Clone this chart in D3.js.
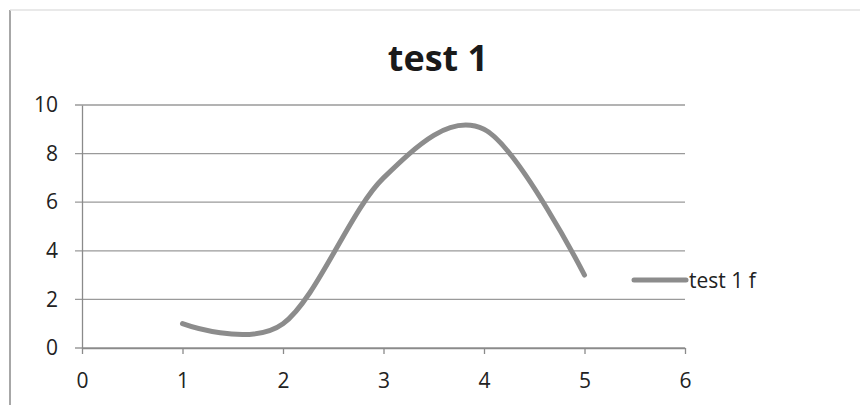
<!DOCTYPE html>
<html><head><meta charset="utf-8">
<script src="https://cdn.jsdelivr.net/npm/d3@7"></script>
<style>html,body{margin:0;padding:0;background:#fff;}svg{display:block;}</style>
</head><body>
<svg id="chart" width="860" height="405"></svg>
<script>
const title = "test 1";
const seriesName = "test 1 f";
const xValues = [1, 2, 3, 4, 5];
const yValues = [1, 1, 7, 9, 3];
const xTicks = [0, 1, 2, 3, 4, 5, 6];
const yTicks = [0, 2, 4, 6, 8, 10];

(function () {
const svg = d3.select("#chart");
const font = "'Open Sans', 'Liberation Sans', sans-serif";
const pLeft = 82, pRight = 685, pTop = 105, pBottom = 348;
const x = d3.scaleLinear().domain([0, 6]).range([pLeft, pRight]);
const y = d3.scaleLinear().domain([0, 10]).range([pBottom, pTop]);

// frame edges (scanned page)
svg.append("line").attr("x1", 10).attr("x2", 10).attr("y1", 10).attr("y2", 405)
  .attr("stroke", "#8a8a8a").attr("stroke-width", 1.5);
svg.append("line").attr("x1", 10).attr("x2", 860).attr("y1", 10).attr("y2", 10)
  .attr("stroke", "#e2e2e2").attr("stroke-width", 1.5);

// title
svg.append("text").attr("x", 438).attr("y", 71).attr("text-anchor", "middle")
  .attr("font-family", font).attr("font-weight", "bold").attr("font-size", 36)
  .attr("fill", "#1a1a1a").text(title);

// gridlines
svg.append("g").selectAll("line").data(yTicks).join("line")
  .attr("x1", pLeft - 7).attr("x2", pRight).attr("y1", d => y(d)).attr("y2", d => y(d))
  .attr("stroke", "#9a9a9a").attr("stroke-width", 1.3);

// y axis
const yAxis = svg.append("g").attr("transform", `translate(${pLeft},0)`)
  .call(d3.axisLeft(y).tickValues(yTicks).tickFormat(d3.format("d")).tickSize(0).tickPadding(24));
yAxis.attr("font-family", font).attr("font-size", 21);
yAxis.select(".domain").attr("stroke", "#8a8a8a").attr("stroke-width", 1.3);
yAxis.selectAll("text").attr("fill", "#222");

// x axis
const xAxis = svg.append("g").attr("transform", `translate(0,${pBottom})`)
  .call(d3.axisBottom(x).tickValues(xTicks).tickFormat(d3.format("d")).tickSize(6).tickPadding(19).tickSizeOuter(0));
xAxis.attr("font-family", font).attr("font-size", 21);
xAxis.select(".domain").attr("stroke", "#8a8a8a").attr("stroke-width", 1.3);
xAxis.selectAll(".tick line").attr("stroke", "#8a8a8a").attr("stroke-width", 1.3);
xAxis.selectAll("text").attr("fill", "#222");

// series
const pts = xValues.map((v, i) => [v, yValues[i]]);
const line = d3.line().x(d => x(d[0])).y(d => y(d[1])).curve(d3.curveCardinal.tension(0));
svg.append("path").datum(pts).attr("d", line).attr("fill", "none")
  .attr("stroke", "#8c8c8c").attr("stroke-width", 5).attr("stroke-linecap", "round");

// legend
svg.append("line").attr("x1", 634).attr("x2", 686).attr("y1", 280).attr("y2", 280)
  .attr("stroke", "#8c8c8c").attr("stroke-width", 5).attr("stroke-linecap", "round");
svg.append("text").attr("x", 689).attr("y", 288).attr("font-family", font)
  .attr("font-size", 21).attr("fill", "#222").text(seriesName);
})();
</script>
</body></html>
